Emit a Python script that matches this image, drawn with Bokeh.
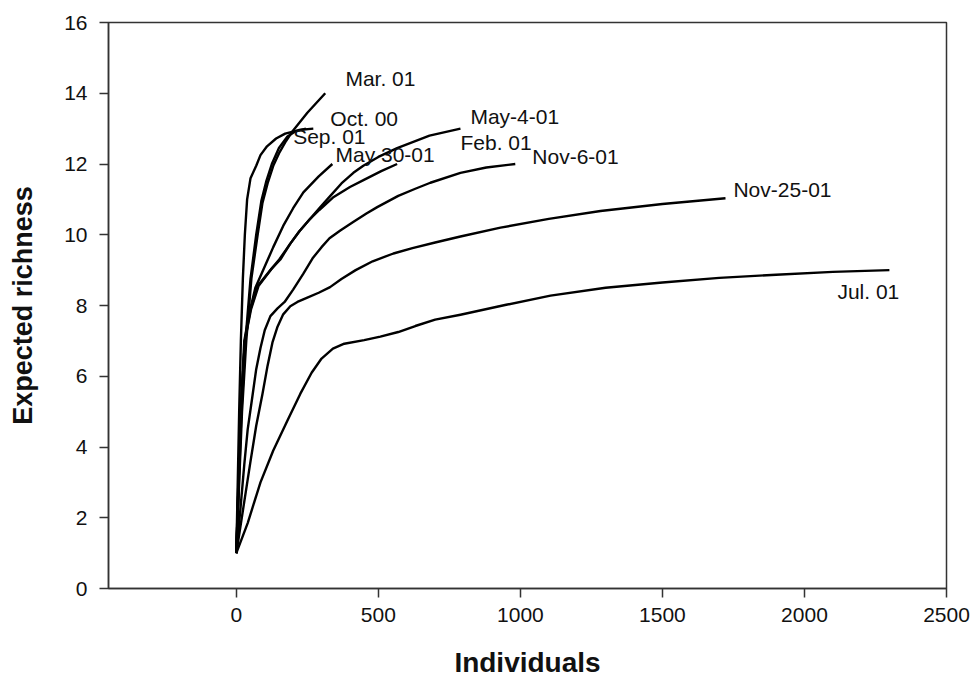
from bokeh.plotting import figure
from bokeh.models import FixedTicker, Range1d
from bokeh.embed import file_html
from bokeh.resources import INLINE
from bokeh.core.properties import value

# ---- data ----
oct00_x = [0, 5, 10, 16, 23, 30, 38, 50, 70, 85, 108, 140, 172, 220, 271]
oct00_y = [1, 3, 5, 7, 8.76, 10.0, 11.0, 11.6, 11.95, 12.25, 12.5, 12.72, 12.86, 12.96, 13.0]

mar01_x = [0, 10, 20, 35, 53, 75, 92, 110, 130, 150, 175, 200, 250, 313]
mar01_y = [1, 3, 5, 7, 8.76, 10.0, 10.9, 11.45, 11.95, 12.3, 12.65, 12.95, 13.45, 14.0]

sep01_x = [0, 9, 18, 32, 50, 70, 88, 105, 125, 150, 180, 210, 245]
sep01_y = [1, 3, 5, 7, 8.76, 10.0, 10.95, 11.5, 12.0, 12.45, 12.78, 12.93, 13.0]

may30_x = [0, 7, 15, 28, 46, 67, 100, 130, 165, 200, 236, 290, 338]
may30_y = [1, 3, 5, 7, 7.8, 8.5, 9.1, 9.65, 10.25, 10.75, 11.2, 11.65, 12.0]

may4_x = [0, 8, 16, 30, 50, 75, 120, 151, 190, 222, 260, 292, 331, 370, 412, 447, 500, 566, 680, 789]
may4_y = [1, 3, 5, 7, 7.9, 8.55, 9.0, 9.3, 9.75, 10.1, 10.45, 10.75, 11.1, 11.45, 11.75, 11.95, 12.2, 12.45, 12.8, 13.0]

feb01_x = [0, 8, 16, 30, 52, 78, 122, 155, 190, 222, 260, 292, 340, 400, 451, 510, 566]
feb01_y = [1, 3, 5, 7, 7.9, 8.55, 9.02, 9.3, 9.75, 10.1, 10.45, 10.7, 11.05, 11.35, 11.56, 11.8, 12.0]

nov6_x = [0, 15, 28, 40, 56, 70, 85, 100, 120, 145, 170, 200, 236, 270, 300, 328, 366, 410, 458, 496, 570, 630, 683, 789, 880, 982]
nov6_y = [1, 2.3, 3.5, 4.5, 5.4, 6.2, 6.8, 7.3, 7.7, 7.92, 8.1, 8.45, 8.9, 9.35, 9.65, 9.9, 10.12, 10.35, 10.6, 10.78, 11.1, 11.3, 11.47, 11.75, 11.9, 12.0]

nov25_x = [0, 25, 50, 70, 92, 110, 127, 145, 165, 190, 215, 250, 290, 330, 370, 420, 480, 553, 620, 700, 789, 930, 1100, 1282, 1500, 1722]
nov25_y = [1, 2.3, 3.6, 4.6, 5.5, 6.3, 6.95, 7.4, 7.75, 7.98, 8.1, 8.22, 8.36, 8.52, 8.75, 9.0, 9.25, 9.47, 9.62, 9.78, 9.95, 10.2, 10.45, 10.67, 10.87, 11.03]

jul01_x = [0, 40, 85, 130, 180, 225, 265, 300, 340, 380, 450, 507, 570, 630, 700, 789, 950, 1106, 1300, 1500, 1700, 1900, 2100, 2299]
jul01_y = [1, 1.85, 3.0, 3.9, 4.75, 5.5, 6.1, 6.5, 6.78, 6.92, 7.02, 7.12, 7.25, 7.42, 7.6, 7.74, 8.02, 8.28, 8.5, 8.65, 8.78, 8.87, 8.95, 9.0]

series = [
    (oct00_x, oct00_y), (mar01_x, mar01_y), (sep01_x, sep01_y),
    (may30_x, may30_y), (may4_x, may4_y), (feb01_x, feb01_y),
    (nov6_x, nov6_y), (nov25_x, nov25_y), (jul01_x, jul01_y),
]

label_text = ["Mar. 01", "Oct. 00", "Sep. 01", "May 30-01", "May-4-01",
              "Feb. 01", "Nov-6-01", "Nov-25-01", "Jul. 01"]
label_x = [384, 331, 200, 349, 824, 789, 1042, 1750, 2116]
label_y = [14.43, 13.3, 12.77, 12.27, 13.33, 12.6, 12.21, 11.28, 8.39]

x_ticks = [0, 500, 1000, 1500, 2000, 2500]
y_ticks = [0, 2, 4, 6, 8, 10, 12, 14, 16]

FONT = "Liberation Sans"

p = figure(width=975, height=680, output_backend="svg", toolbar_location=None,
           x_range=Range1d(-450, 2500), y_range=Range1d(0, 16),
           min_border_left=108, min_border_right=29, min_border_top=22,
           min_border_bottom=85)

p.xgrid.visible = False
p.ygrid.visible = False
p.outline_line_color = "#333333"
p.outline_line_width = 1.5
p.background_fill_color = "white"
p.border_fill_color = "white"

for xs, ys in series:
    p.line(xs, ys, line_color="black", line_width=2.4, line_join="round")

p.text(x=label_x, y=label_y, text=label_text, text_font=value(FONT),
       text_font_size="21px", text_align="left", text_baseline="middle",
       text_color="#111111")

for ax in (p.xaxis[0], p.yaxis[0]):
    ax.axis_line_color = "#333333"
    ax.axis_line_width = 1.5
    ax.major_tick_line_color = "#333333"
    ax.major_tick_line_width = 1.5
    ax.major_tick_in = 0
    ax.major_tick_out = 9
    ax.minor_tick_line_color = None
    ax.major_label_text_font = FONT
    ax.major_label_text_font_size = "21px"
    ax.major_label_text_color = "#111111"
    ax.axis_label_text_font = FONT
    ax.axis_label_text_font_style = "bold"
    ax.axis_label_text_color = "#111111"

p.xaxis.axis_label_text_font_size = "28px"
p.yaxis.axis_label_text_font_size = "27px"
p.xaxis.ticker = FixedTicker(ticks=x_ticks)
p.yaxis.ticker = FixedTicker(ticks=y_ticks)
p.xaxis.axis_label = "Individuals"
p.yaxis.axis_label = "Expected richness"
p.xaxis.major_label_standoff = 10
p.yaxis.major_label_standoff = 12
p.xaxis.axis_label_standoff = 22
p.yaxis.axis_label_standoff = 23

open("out.html", "w").write(file_html(p, INLINE))
